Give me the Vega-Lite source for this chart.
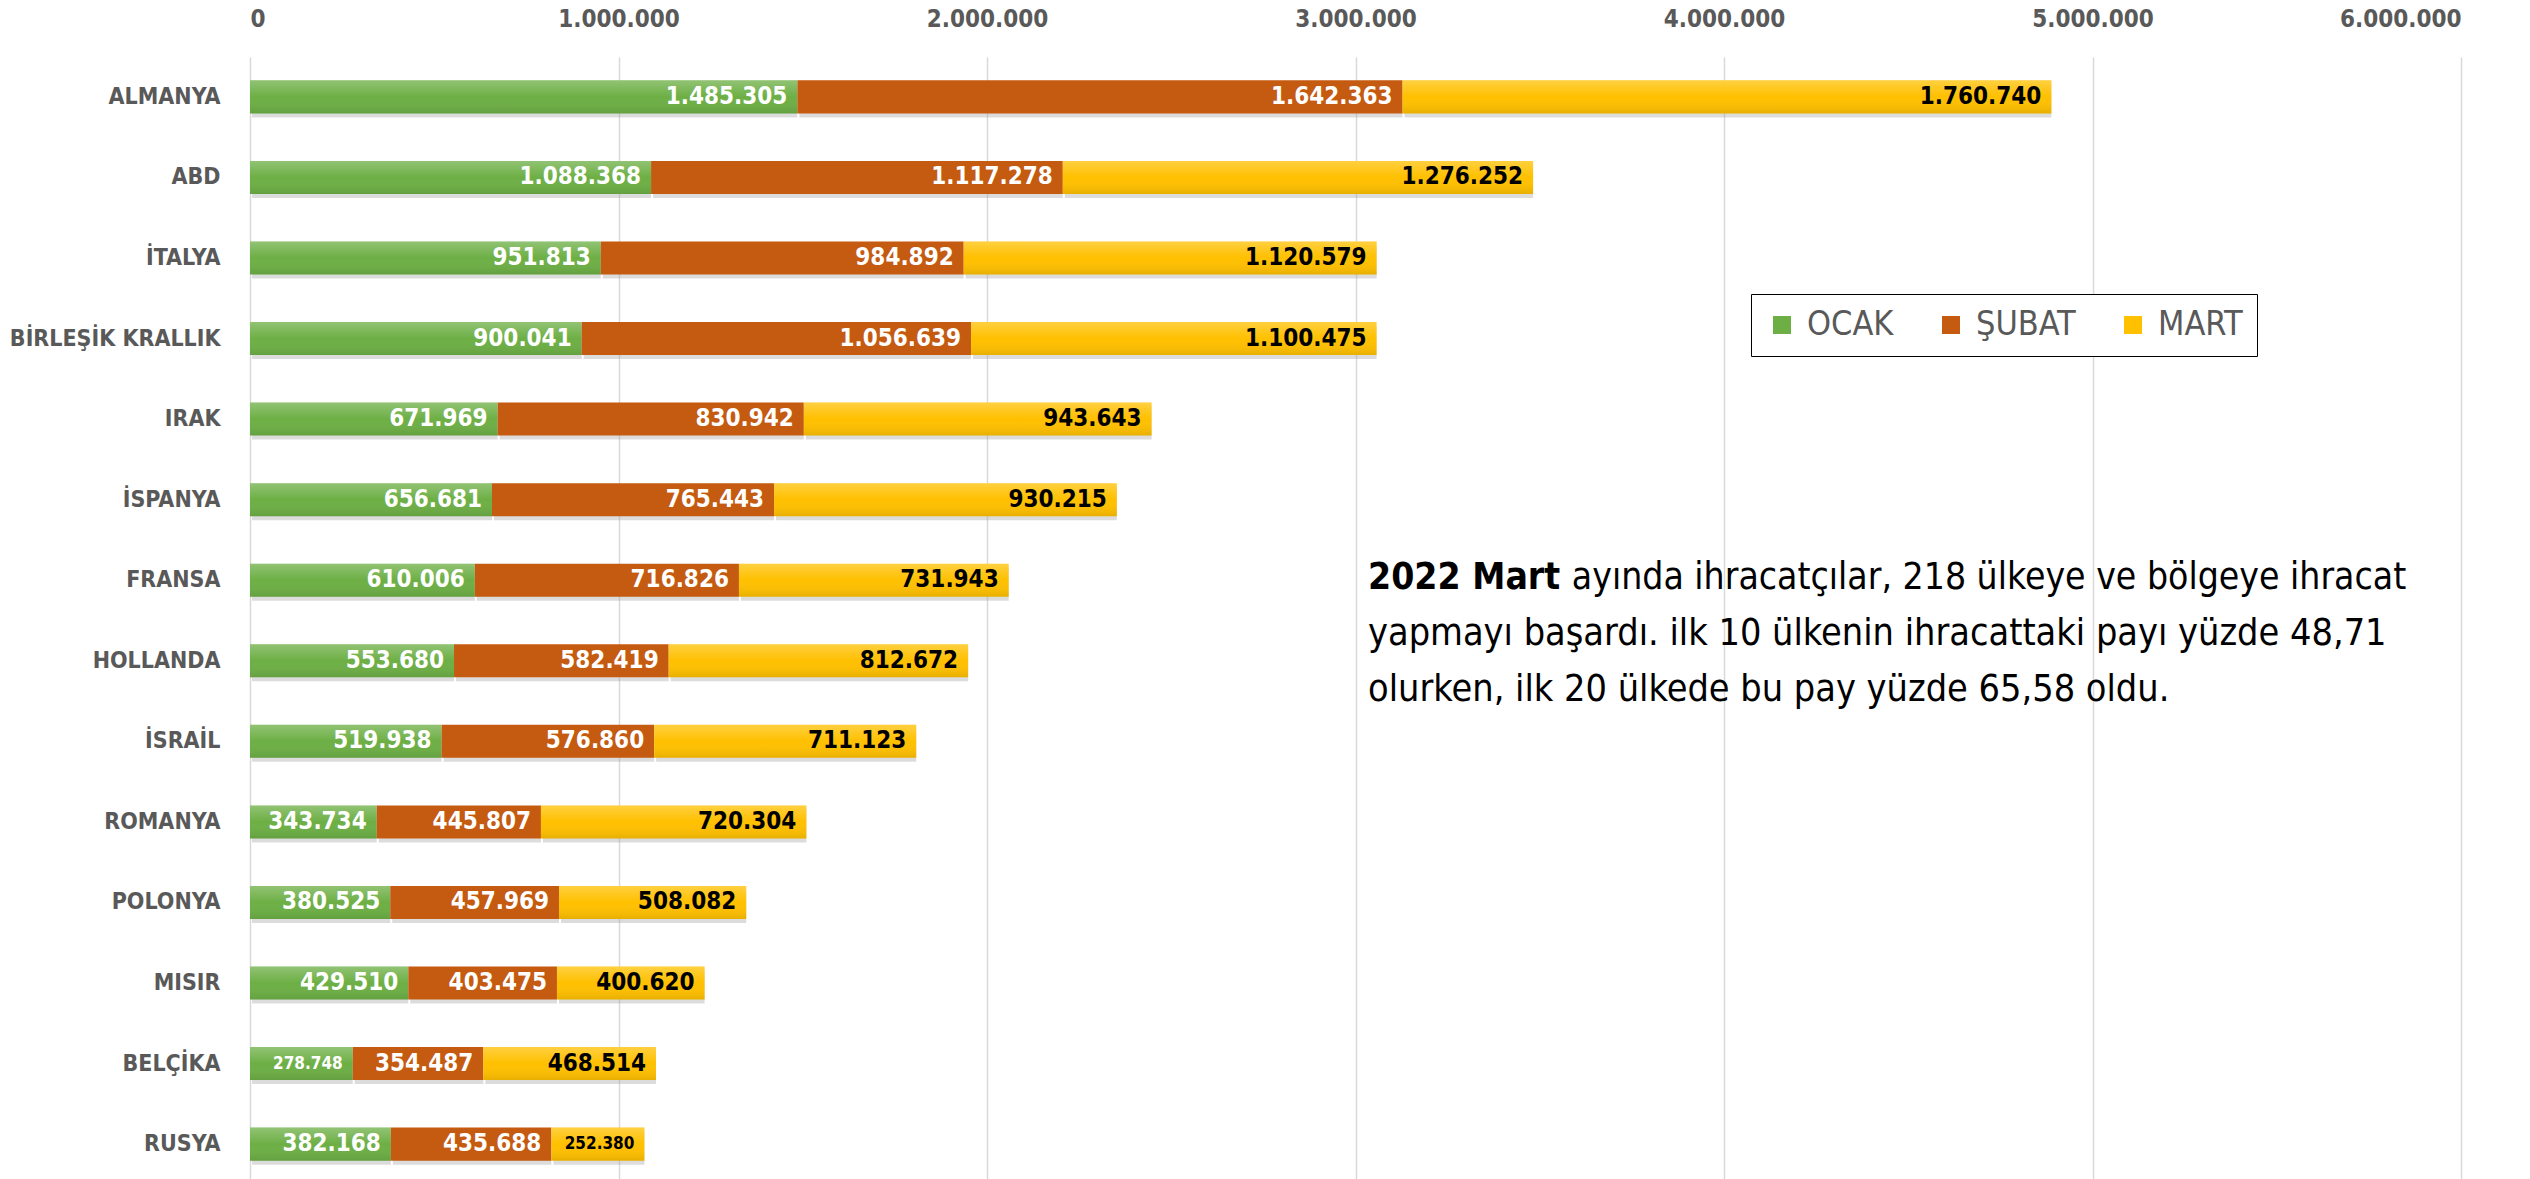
{
  "$schema": "https://vega.github.io/schema/vega-lite/v6.json",
  "width": 2211,
  "height": 1127,
  "autosize": {"type": "none"},
  "padding": {"left": 250, "top": 57, "right": 69, "bottom": 0},
  "background": "white",
  "config": {
    "locale": {"number": {"decimal": ",", "thousands": ".", "grouping": [3], "currency": ["", ""]}},
    "view": {"stroke": null},
    "font": "DejaVu Sans Condensed"
  },
  "datasets": {
    "ihracat": [
      {"ülke": "ALMANYA", "ay": "OCAK", "v": 1485305},
      {"ülke": "ALMANYA", "ay": "ŞUBAT", "v": 1642363},
      {"ülke": "ALMANYA", "ay": "MART", "v": 1760740},
      {"ülke": "ABD", "ay": "OCAK", "v": 1088368},
      {"ülke": "ABD", "ay": "ŞUBAT", "v": 1117278},
      {"ülke": "ABD", "ay": "MART", "v": 1276252},
      {"ülke": "İTALYA", "ay": "OCAK", "v": 951813},
      {"ülke": "İTALYA", "ay": "ŞUBAT", "v": 984892},
      {"ülke": "İTALYA", "ay": "MART", "v": 1120579},
      {"ülke": "BİRLEŞİK KRALLIK", "ay": "OCAK", "v": 900041},
      {"ülke": "BİRLEŞİK KRALLIK", "ay": "ŞUBAT", "v": 1056639},
      {"ülke": "BİRLEŞİK KRALLIK", "ay": "MART", "v": 1100475},
      {"ülke": "IRAK", "ay": "OCAK", "v": 671969},
      {"ülke": "IRAK", "ay": "ŞUBAT", "v": 830942},
      {"ülke": "IRAK", "ay": "MART", "v": 943643},
      {"ülke": "İSPANYA", "ay": "OCAK", "v": 656681},
      {"ülke": "İSPANYA", "ay": "ŞUBAT", "v": 765443},
      {"ülke": "İSPANYA", "ay": "MART", "v": 930215},
      {"ülke": "FRANSA", "ay": "OCAK", "v": 610006},
      {"ülke": "FRANSA", "ay": "ŞUBAT", "v": 716826},
      {"ülke": "FRANSA", "ay": "MART", "v": 731943},
      {"ülke": "HOLLANDA", "ay": "OCAK", "v": 553680},
      {"ülke": "HOLLANDA", "ay": "ŞUBAT", "v": 582419},
      {"ülke": "HOLLANDA", "ay": "MART", "v": 812672},
      {"ülke": "İSRAİL", "ay": "OCAK", "v": 519938},
      {"ülke": "İSRAİL", "ay": "ŞUBAT", "v": 576860},
      {"ülke": "İSRAİL", "ay": "MART", "v": 711123},
      {"ülke": "ROMANYA", "ay": "OCAK", "v": 343734},
      {"ülke": "ROMANYA", "ay": "ŞUBAT", "v": 445807},
      {"ülke": "ROMANYA", "ay": "MART", "v": 720304},
      {"ülke": "POLONYA", "ay": "OCAK", "v": 380525},
      {"ülke": "POLONYA", "ay": "ŞUBAT", "v": 457969},
      {"ülke": "POLONYA", "ay": "MART", "v": 508082},
      {"ülke": "MISIR", "ay": "OCAK", "v": 429510},
      {"ülke": "MISIR", "ay": "ŞUBAT", "v": 403475},
      {"ülke": "MISIR", "ay": "MART", "v": 400620},
      {"ülke": "BELÇİKA", "ay": "OCAK", "v": 278748},
      {"ülke": "BELÇİKA", "ay": "ŞUBAT", "v": 354487},
      {"ülke": "BELÇİKA", "ay": "MART", "v": 468514},
      {"ülke": "RUSYA", "ay": "OCAK", "v": 382168},
      {"ülke": "RUSYA", "ay": "ŞUBAT", "v": 435688},
      {"ülke": "RUSYA", "ay": "MART", "v": 252380}
    ]
  },
  "layer": [
    {
      "data": {"name": "ihracat"},
      "transform": [
        {"calculate": "indexof(['OCAK','ŞUBAT','MART'], datum.ay)", "as": "ord"},
        {"stack": "v", "groupby": ["ülke"], "sort": [{"field": "ord", "order": "ascending"}], "as": ["v0", "v1"]}
      ],
      "layer": [
        {
          "mark": {"type": "bar", "color": "#9A9A9A", "opacity": 0.35, "yOffset": 4, "xOffset": 2},
          "encoding": {
            "y": {
              "field": "ülke", "type": "nominal",
              "scale": {
                "domain": ["ALMANYA", "ABD", "İTALYA", "BİRLEŞİK KRALLIK", "IRAK", "İSPANYA", "FRANSA", "HOLLANDA", "İSRAİL", "ROMANYA", "POLONYA", "MISIR", "BELÇİKA", "RUSYA"],
                "paddingInner": 0.59, "paddingOuter": 0.29
              },
              "axis": {
                "title": null, "domain": false, "ticks": false, "tickSize": 0, "labelPadding": 30, "labelLimit": 0,
                "labelFont": "DejaVu Sans Condensed", "labelFontSize": 23, "labelFontWeight": "bold", "labelColor": "#595959"
              }
            },
            "x": {
              "field": "v0", "type": "quantitative",
              "scale": {"domain": [0, 6000000], "nice": false, "zero": true},
              "axis": {
                "title": null, "orient": "top", "values": [0, 1000000, 2000000, 3000000, 4000000, 5000000, 6000000],
                "format": ",d", "domain": false, "ticks": false, "tickSize": 0, "labelPadding": 26,
                "grid": true, "gridColor": "#D9D9D9", "gridWidth": 1.5,
                "labelFont": "DejaVu Sans Condensed", "labelFontSize": 24, "labelFontWeight": "bold", "labelColor": "#595959"
              }
            },
            "x2": {"field": "v1"}
          }
        },
        {
          "mark": {"type": "bar"},
          "encoding": {
            "y": {"field": "ülke", "type": "nominal"},
            "x": {"field": "v0", "type": "quantitative"},
            "x2": {"field": "v1"},
            "color": {
              "field": "ay", "type": "nominal",
              "scale": {"domain": ["OCAK", "ŞUBAT", "MART"], "range": ["#6DAF45", "#C55A11", "#FFC000"]},
              "legend": {
                "title": null, "orient": "none", "legendX": 1501, "legendY": 237, "direction": "horizontal",
                "symbolType": "square", "symbolSize": 324, "symbolStrokeWidth": 0, "symbolOpacity": 1,
                "labelFont": "DejaVu Sans Condensed", "labelFontSize": 34, "labelColor": "#595959",
                "labelOffset": 8, "columnPadding": 40, "padding": 14,
                "strokeColor": "#000000", "fillColor": "white"
              }
            }
          }
        },
        {
          "transform": [{"filter": "datum.ay !== 'ŞUBAT'"}],
          "mark": {
            "type": "bar",
            "color": {"gradient": "linear", "x1": 0, "y1": 0, "x2": 0, "y2": 1, "stops": [
              {"offset": 0, "color": "rgba(255,255,255,0.25)"},
              {"offset": 0.5, "color": "rgba(255,255,255,0)"},
              {"offset": 1, "color": "rgba(0,0,0,0.09)"}
            ]}
          },
          "encoding": {
            "y": {"field": "ülke", "type": "nominal"},
            "x": {"field": "v0", "type": "quantitative"},
            "x2": {"field": "v1"}
          }
        },
        {
          "mark": {"type": "text", "align": "right", "baseline": "middle", "dx": -10, "fontWeight": "bold", "font": "DejaVu Sans Condensed"},
          "encoding": {
            "y": {"field": "ülke", "type": "nominal"},
            "x": {"field": "v1", "type": "quantitative"},
            "text": {"field": "v", "type": "quantitative", "format": ",d"},
            "color": {"condition": {"test": "datum.ay === 'MART'", "value": "#000000"}, "value": "#FFFFFF"},
            "size": {"condition": {"test": "datum.v < 300000", "value": 17}, "value": 24}
          }
        }
      ]
    },
    {
      "data": {"values": [{"t": "2022 Mart"}]},
      "mark": {"type": "text", "align": "left", "baseline": "middle", "fontSize": 37, "fontWeight": "bold", "color": "#000000", "dy": -2, "font": "DejaVu Sans Condensed"},
      "encoding": {
        "x": {"datum": 3034000, "type": "quantitative"},
        "y": {"datum": "FRANSA", "type": "nominal"},
        "text": {"field": "t"}
      }
    },
    {
      "data": {"values": [{"t": "ayında ihracatçılar, 218 ülkeye ve bölgeye ihracat"}]},
      "mark": {"type": "text", "align": "left", "baseline": "middle", "fontSize": 37, "color": "#000000", "dy": -2, "font": "DejaVu Sans Condensed"},
      "encoding": {
        "x": {"datum": 3587000, "type": "quantitative"},
        "y": {"datum": "FRANSA", "type": "nominal"},
        "text": {"field": "t"}
      }
    },
    {
      "data": {"values": [{"t": "yapmayı başardı. ilk 10 ülkenin ihracattaki payı yüzde 48,71"}]},
      "mark": {"type": "text", "align": "left", "baseline": "middle", "fontSize": 37.5, "color": "#000000", "dy": 54, "font": "DejaVu Sans Condensed"},
      "encoding": {
        "x": {"datum": 3034000, "type": "quantitative"},
        "y": {"datum": "FRANSA", "type": "nominal"},
        "text": {"field": "t"}
      }
    },
    {
      "data": {"values": [{"t": "olurken, ilk 20 ülkede bu pay yüzde 65,58 oldu."}]},
      "mark": {"type": "text", "align": "left", "baseline": "middle", "fontSize": 37.5, "color": "#000000", "dy": 110, "font": "DejaVu Sans Condensed"},
      "encoding": {
        "x": {"datum": 3034000, "type": "quantitative"},
        "y": {"datum": "FRANSA", "type": "nominal"},
        "text": {"field": "t"}
      }
    }
  ]
}
